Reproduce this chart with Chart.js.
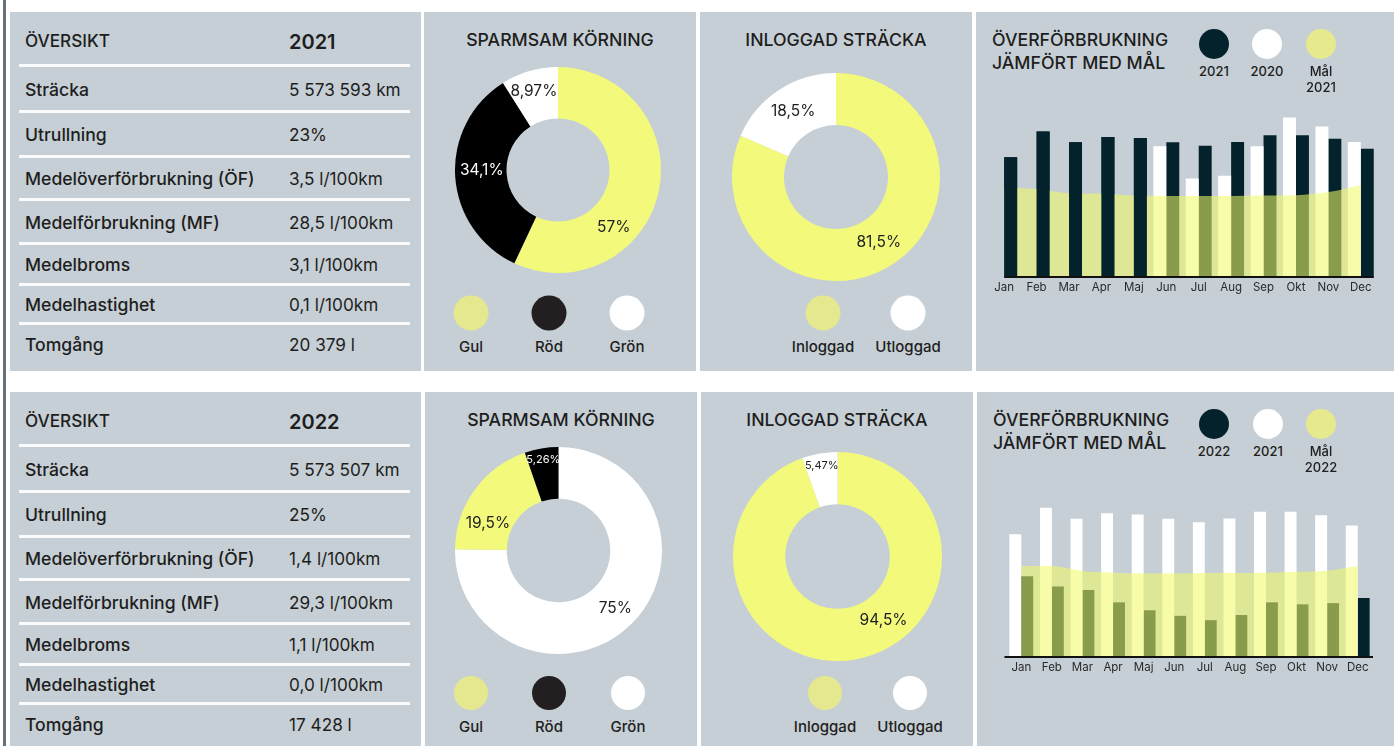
<!DOCTYPE html>
<html lang="sv">
<head>
  <meta charset="UTF-8" />
  <meta name="viewport" content="width=device-width, initial-scale=1.0" />
  <title>Översikt 2021 / 2022</title>
  <script src="https://cdn.jsdelivr.net/npm/chart.js"></script>
  <style>
    body {
      margin: 0;
      width: 1394px;
      height: 746px;
      overflow: hidden;
      position: relative;
      background: #fff;
      font-family: Inter, "Noto Sans", Arial, sans-serif;
      color: #1e1e20;
    }
    .edge { position: absolute; left: 3px; top: 0; width: 3px; height: 746px; background: #68717a; }
    .panel { position: absolute; background: #c6cfd6; overflow: hidden; }
    .title { position: absolute; left: 0; right: 0; top: 17px; text-align: center; font-size: 17.7px; font-weight: 500; }
    .bartitle { position: absolute; left: 16px; top: 16px; font-size: 17.7px; font-weight: 500; line-height: 23px; }
    .dot { position: absolute; border-radius: 50%; transform: translate(-50%, -50%); }
    .dotlabel { position: absolute; transform: translateX(-50%); text-align: center; white-space: nowrap; font-weight: 500; }
    .cell { position: absolute; white-space: nowrap; transform: translateY(-50%); }
    .rule { position: absolute; left: 9px; width: 391px; height: 3px; background: #fbfbfb; }
    canvas { position: absolute; }
  </style>
</head>
<body>
  <div class="edge"></div>

  <div class="panel" id="tbl2021" style="left:10px; top:12px; width:411px; height:359px;"></div>
  <div class="panel" id="spar2021p" style="left:424px; top:12px; width:272px; height:359px;">
    <div class="title">SPARMSAM KÖRNING</div>
    <canvas id="spar2021" width="206" height="206" style="left:31px; top:55px;"></canvas>
  </div>
  <div class="panel" id="logg2021p" style="left:700px; top:12px; width:272px; height:359px;">
    <div class="title">INLOGGAD STRÄCKA</div>
    <canvas id="logg2021" width="208" height="208" style="left:32px; top:61px;"></canvas>
  </div>
  <div class="panel" id="over2021p" style="left:976px; top:12px; width:418px; height:359px;">
    <div class="bartitle">ÖVERFÖRBRUKNING<br>JÄMFÖRT MED MÅL</div>
    <canvas id="over2021c" width="418" height="215" style="left:0; top:72px;"></canvas>
  </div>

  <div class="panel" id="tbl2022" style="left:10px; top:392px; width:411px; height:360px;"></div>
  <div class="panel" id="spar2022p" style="left:425px; top:392px; width:272px; height:360px;">
    <div class="title">SPARMSAM KÖRNING</div>
    <canvas id="spar2022" width="207" height="207" style="left:30px; top:55px;"></canvas>
  </div>
  <div class="panel" id="logg2022p" style="left:701px; top:392px; width:272px; height:360px;">
    <div class="title">INLOGGAD STRÄCKA</div>
    <canvas id="logg2022" width="209" height="209" style="left:32px; top:60px;"></canvas>
  </div>
  <div class="panel" id="over2022p" style="left:977px; top:392px; width:417px; height:360px;">
    <div class="bartitle">ÖVERFÖRBRUKNING<br>JÄMFÖRT MED MÅL</div>
    <canvas id="over2022c" width="417" height="220" style="left:0; top:67px;"></canvas>
  </div>

  <script>
    // ---- tabell ----
    const tableLabels = ['Sträcka', 'Utrullning', 'Medelöverförbrukning (ÖF)', 'Medelförbrukning (MF)', 'Medelbroms', 'Medelhastighet', 'Tomgång'];
    const tableValues2021 = ['5 573 593 km', '23%', '3,5 l/100km', '28,5 l/100km', '3,1 l/100km', '0,1 l/100km', '20 379 l'];
    const tableValues2022 = ['5 573 507 km', '25%', '1,4 l/100km', '29,3 l/100km', '1,1 l/100km', '0,0 l/100km', '17 428 l'];

    // ---- munkdiagram (ordning medurs från kl 12) ----
    const sparLabels2021 = ['Gul', 'Röd', 'Grön'];
    const sparValues2021 = [57, 34.1, 8.97];
    const sparLabels2022 = ['Grön', 'Gul', 'Röd'];
    const sparValues2022 = [75, 19.5, 5.26];
    const loggLabels = ['Inloggad', 'Utloggad'];
    const loggValues2021 = [81.5, 18.5];
    const loggValues2022 = [94.5, 5.47];
    const sparLegend = ['Gul', 'Röd', 'Grön'];

    // ---- överförbrukning per månad ----
    const months = ['Jan', 'Feb', 'Mar', 'Apr', 'Maj', 'Jun', 'Jul', 'Aug', 'Sep', 'Okt', 'Nov', 'Dec'];
    const over2020 = [null, null, null, null, null, 3.39, 2.55, 2.62, 3.39, 4.13, 3.9, 3.5];
    const over2021 = [3.1, 3.77, 3.49, 3.63, 3.6, 3.49, 3.4, 3.5, 3.67, 3.67, 3.58, 3.32];
    const over2022 = [2.04, 1.78, 1.69, 1.38, 1.18, 1.04, 0.93, 1.06, 1.38, 1.33, 1.36, 1.49];
    const goal2021 = [2.31, 2.28, 2.17, 2.16, 2.11, 2.1, 2.1, 2.1, 2.11, 2.12, 2.2, 2.38];
    const goal2022 = [2.3, 2.3, 2.17, 2.13, 2.11, 2.11, 2.12, 2.12, 2.13, 2.15, 2.18, 2.3];

    const FONT = 'Inter, "Noto Sans", Arial, sans-serif';
    const YELLOW = '#f2f97b';
    const DARK = '#03222c';
    const sliceColor = { Gul: YELLOW, 'Röd': '#000000', 'Grön': '#ffffff', Inloggad: YELLOW, Utloggad: '#ffffff' };
    const sliceText = { Gul: '#1e1e20', 'Röd': '#ffffff', 'Grön': '#1e1e20', Inloggad: '#1e1e20', Utloggad: '#1e1e20' };
    const legendColor = { Gul: '#e5e88e', 'Röd': '#231f20', 'Grön': '#ffffff', Inloggad: '#e5e88e', Utloggad: '#ffffff' };
    const rowLines = [52, 98, 143, 186, 230, 271, 310, 350];

    function el(parent, cls, html, style) {
      const d = document.createElement('div');
      d.className = cls;
      d.innerHTML = html;
      Object.assign(d.style, style);
      parent.appendChild(d);
      return d;
    }

    function buildTable(id, year, values) {
      const p = document.getElementById(id);
      el(p, 'cell', 'ÖVERSIKT', { left: '15px', top: '28px', fontSize: '17.2px', fontWeight: 500 });
      el(p, 'cell', year, { left: '279px', top: '30px', fontSize: '20px', fontWeight: 600 });
      tableLabels.forEach((label, i) => {
        const mid = (rowLines[i] + 3 + rowLines[i + 1]) / 2;
        el(p, 'rule', '', { top: rowLines[i] + 'px' });
        el(p, 'cell', label, { left: '15px', top: mid + 'px', fontSize: '17.6px', fontWeight: 500 });
        el(p, 'cell', values[i], { left: '279px', top: mid + 'px', fontSize: '17.2px', fontWeight: 400 });
      });
    }

    function buildLegend(id, names, xs, y, size, fontSize, lineGap) {
      const p = document.getElementById(id);
      names.forEach((n, i) => {
        el(p, 'dot', '', { left: xs[i] + 'px', top: y + 'px', width: size + 'px', height: size + 'px', background: n.color });
        el(p, 'dotlabel', n.text, { left: xs[i] + 'px', top: (y + lineGap) + 'px', fontSize: fontSize + 'px', lineHeight: '16px' });
      });
    }

    // etiketter i munkdiagrammens sektorer
    const sliceLabels = {
      id: 'sliceLabels',
      afterDatasetsDraw(chart, args, opts) {
        const ctx = chart.ctx;
        const values = chart.data.datasets[0].data;
        chart.getDatasetMeta(0).data.forEach((arc, i) => {
          const p = arc.getProps(['x', 'y', 'startAngle', 'endAngle', 'innerRadius', 'outerRadius'], true);
          const spot = (opts.spots && opts.spots[i]) || {};
          const ang = spot.deg !== undefined ? spot.deg * Math.PI / 180 - Math.PI / 2 : (p.startAngle + p.endAngle) / 2;
          const rad = spot.r !== undefined ? spot.r * p.outerRadius : (p.innerRadius + p.outerRadius) / 2;
          ctx.save();
          ctx.font = (spot.size || 15.5) + 'px ' + FONT;
          ctx.fillStyle = opts.colors[i];
          ctx.textAlign = 'center';
          ctx.textBaseline = 'middle';
          ctx.fillText(String(values[i]).replace('.', ',') + '%', p.x + Math.cos(ang) * rad, p.y + Math.sin(ang) * rad);
          ctx.restore();
        });
      }
    };

    function donut(id, labels, values, spots) {
      new Chart(document.getElementById(id), {
        type: 'doughnut',
        data: {
          labels: labels,
          datasets: [{ data: values, backgroundColor: labels.map(l => sliceColor[l]), borderWidth: 0 }]
        },
        options: {
          responsive: false,
          animation: false,
          cutout: '50%',
          plugins: {
            legend: { display: false },
            tooltip: { enabled: false },
            sliceLabels: { colors: labels.map(l => sliceText[l]), spots: spots }
          }
        },
        plugins: [sliceLabels]
      });
    }

    // ritar valda staplar igen ovanpå målytan
    const barsOnTop = {
      id: 'barsOnTop',
      afterDatasetsDraw(chart, args, opts) {
        if (!opts.count) return;
        const meta = chart.getDatasetMeta(opts.dataset);
        meta.data.slice(0, opts.count).forEach(bar => bar.draw(chart.ctx));
      }
    };

    // svart baslinje under staplarna
    const baseLine = {
      id: 'baseLine',
      afterDatasetsDraw(chart, args, opts) {
        const { ctx, scales } = chart;
        const y = scales.y.getPixelForValue(0);
        ctx.save();
        ctx.strokeStyle = '#111';
        ctx.lineWidth = 2;
        ctx.beginPath();
        ctx.moveTo(scales.x.getPixelForValue(opts.from), y);
        ctx.lineTo(scales.x.getPixelForValue(opts.to), y);
        ctx.stroke();
        ctx.restore();
      }
    };

    function overChart(id, prevLabel, prev, curLabel, cur, goal, geo) {
      new Chart(document.getElementById(id), {
        type: 'bar',
        data: {
          labels: months,
          datasets: [
            { label: prevLabel, data: prev, backgroundColor: '#ffffff', stack: 'prev', order: 1, borderWidth: 0,
              categoryPercentage: geo.catPct, barPercentage: 1 },
            { label: curLabel, data: cur, backgroundColor: DARK, stack: 'cur', order: 1, borderWidth: 0,
              categoryPercentage: geo.catPct, barPercentage: 1 },
            { label: 'Mål', type: 'line', data: goal, order: 0, fill: 'origin',
              backgroundColor: 'rgba(240, 250, 100, 0.57)', borderWidth: 0, pointRadius: 0,
              cubicInterpolationMode: 'monotone' }
          ]
        },
        options: {
          responsive: false,
          animation: false,
          layout: { padding: { left: geo.padLeft, right: geo.padRight, top: 0, bottom: 0 } },
          scales: {
            x: {
              offset: true,
              grid: { display: false, drawTicks: false },
              border: { display: false },
              ticks: { color: '#2a2a2a', font: { family: FONT, size: 11.5 }, padding: 4, maxRotation: 0, autoSkip: false },
              afterFit: (s) => { s.height = 22; }
            },
            y: { display: false, min: 0, max: 5 }
          },
          plugins: {
            legend: { display: false },
            tooltip: { enabled: false },
            barsOnTop: { dataset: 1, count: geo.topBars },
            baseLine: { from: geo.lineFrom, to: geo.lineTo }
          }
        },
        plugins: [barsOnTop, baseLine]
      });
    }

    buildTable('tbl2021', '2021', tableValues2021);
    buildTable('tbl2022', '2022', tableValues2022);

    donut('spar2021', sparLabels2021, sparValues2021, [{ deg: 136, r: 0.78 }, { deg: 270, r: 0.74 }, { deg: 343, r: 0.8 }]);
    donut('logg2021', loggLabels, loggValues2021, []);
    donut('spar2022', sparLabels2022, sparValues2022, [{ r: 0.78 }, { deg: 291, r: 0.73 }, { r: 0.89, size: 11 }]);
    donut('logg2022', loggLabels, loggValues2022, [{ deg: 144 }, { r: 0.88, size: 11 }]);

    const sparNames = sparLegend.map(n => ({ text: n, color: legendColor[n] }));
    const loggNames = loggLabels.map(n => ({ text: n, color: legendColor[n] }));
    buildLegend('spar2021p', sparNames, [47, 125, 203], 301, 35, 15, 26);
    buildLegend('spar2022p', sparNames, [46, 124, 203], 301, 34, 15, 26);
    buildLegend('logg2021p', loggNames, [123, 208], 301, 35, 15, 26);
    buildLegend('logg2022p', loggNames, [124, 209], 301, 34, 15, 26);

    buildLegend('over2021p', [
      { text: '2021', color: DARK }, { text: '2020', color: '#ffffff' }, { text: 'Mål<br>2021', color: '#e6ea8d' }
    ], [238, 291, 345], 32, 30, 13, 19);
    buildLegend('over2022p', [
      { text: '2022', color: DARK }, { text: '2021', color: '#ffffff' }, { text: 'Mål<br>2022', color: '#e6ea8d' }
    ], [237, 291, 344], 32, 30, 13, 19);

    overChart('over2021c', '2020', over2020, '2021', over2021, goal2021,
      { padLeft: 12, padRight: 17, catPct: 0.8, topBars: 5, lineFrom: 0, lineTo: 11.4 });
    overChart('over2022c', '2021', over2021, '2022', over2022, goal2022,
      { padLeft: 29, padRight: 21, catPct: 0.78, topBars: 0, lineFrom: -0.55, lineTo: 11.5 });
  </script>
</body>
</html>
